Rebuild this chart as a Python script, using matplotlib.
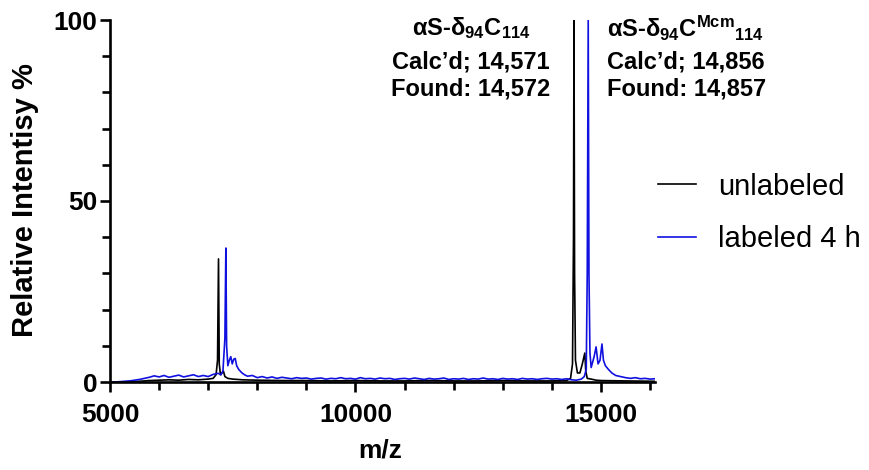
import matplotlib
matplotlib.use("Agg")
import matplotlib.pyplot as plt
from matplotlib.ticker import MultipleLocator

plt.rcParams['font.family'] = ['Liberation Sans', 'DejaVu Sans']
plt.rcParams['mathtext.fontset'] = 'custom'
plt.rcParams['mathtext.rm'] = 'Liberation Sans:bold'
plt.rcParams['mathtext.it'] = 'Liberation Sans:bold'
plt.rcParams['mathtext.bf'] = 'Liberation Sans:bold'
plt.rcParams['mathtext.default'] = 'rm'

# unlabeled spectrum (m/z, relative intensity %)
unlabeled_mz = [5000, 5200, 5400, 5600, 5800, 6000, 6200, 6400, 6600, 6800,
                7000, 7100, 7160, 7190, 7210, 7225, 7250, 7310, 7340, 7400,
                7500, 7700, 8000, 8500, 9000, 9500, 10000, 10500, 11000, 11500,
                12000, 12500, 13000, 13500, 14000, 14300, 14380, 14420, 14440, 14450,
                14462, 14480, 14520, 14570, 14620, 14670, 14690, 14720, 14800, 14900,
                15000, 15500, 16100]
unlabeled_int = [0.0, 0.0, 0.1, 0.2, 0.4, 0.5, 0.6, 0.5, 0.7, 0.6,
                 0.8, 1.0, 2.0, 6.0, 34.0, 5.0, 2.0, 3.0, 1.5, 1.0,
                 0.8, 0.6, 0.5, 0.4, 0.4, 0.3, 0.4, 0.3, 0.3, 0.4,
                 0.3, 0.3, 0.4, 0.3, 0.3, 0.4, 1.0, 5.0, 40.0, 100.0,
                 30.0, 6.0, 2.5, 2.5, 5.0, 8.0, 3.0, 1.0, 0.8, 0.5,
                 0.4, 0.3, 0.2]

# labeled 4 h spectrum
labeled_mz = [5000, 5100, 5200, 5300, 5400, 5500, 5600, 5700, 5800, 5900,
              6000, 6100, 6200, 6300, 6400, 6500, 6600, 6700, 6800, 6900,
              7000, 7100, 7200, 7260, 7300, 7340, 7360, 7375, 7400, 7430,
              7460, 7490, 7520, 7550, 7580, 7620, 7680, 7740, 7800, 7900,
              8000, 8100, 8200, 8300, 8400, 8500, 8600, 8700, 8800, 8900,
              9000, 9100, 9200, 9300, 9400, 9500, 9600, 9700, 9800, 9900,
              10000, 10100, 10200, 10300, 10400, 10500, 10600, 10700, 10800, 10900,
              11000, 11100, 11200, 11300, 11400, 11500, 11600, 11700, 11800, 11900,
              12000, 12100, 12200, 12300, 12400, 12500, 12600, 12700, 12800, 12900,
              13000, 13100, 13200, 13300, 13400, 13500, 13600, 13700, 13800, 13900,
              14000, 14100, 14200, 14300, 14400, 14500, 14600, 14660, 14700, 14720,
              14740, 14755, 14775, 14800, 14830, 14860, 14900, 14940, 14980, 15020,
              15050, 15090, 15150, 15220, 15300, 15400, 15500, 15600, 15700, 15800,
              15900, 16000, 16100]
labeled_int = [0.0, 0.0, 0.1, 0.2, 0.3, 0.5, 0.7, 1.0, 1.3, 1.7,
               1.4, 1.8, 1.3, 1.6, 1.9, 1.4, 1.7, 2.0, 1.5, 1.8,
               1.5, 2.1, 2.4, 2.0, 3.0, 12.0, 37.0, 10.0, 4.5, 6.0,
               7.0, 5.0, 6.3, 6.5, 4.5, 3.5, 2.6, 2.0, 1.6, 1.8,
               1.2, 1.5, 1.1, 1.4, 1.0, 1.3, 1.1, 0.9, 1.2, 1.0,
               1.1, 0.8, 1.0, 1.1, 0.8, 1.0, 0.9, 1.2, 0.9, 1.0,
               0.8, 1.2, 0.9, 1.0, 0.8, 1.1, 0.9, 1.0, 0.7, 0.9,
               1.0, 0.8, 1.1, 0.9, 0.7, 1.0, 0.8, 0.9, 1.1, 0.7,
               0.9, 0.8, 1.0, 0.7, 0.9, 0.8, 1.1, 0.8, 0.9, 0.7,
               1.0, 0.8, 0.9, 0.7, 1.0, 0.8, 0.9, 0.7, 0.9, 1.0,
               0.8, 0.9, 0.7, 0.9, 0.6, 0.5, 0.8, 1.5, 3.5, 30.0,
               100.0, 30.0, 8.0, 4.0, 5.5, 7.0, 9.7, 5.0, 6.0, 10.5,
               6.0, 4.5, 3.5, 2.5, 1.8, 1.5, 1.2, 1.0, 1.2, 0.9,
               1.0, 0.8, 0.9]

series_labels = ['unlabeled', 'labeled 4 h']

fig = plt.figure(figsize=(8.69, 4.70), dpi=100)
ax = fig.add_axes([110 / 869, 88 / 470, 545 / 869, 362 / 470])

ax.plot(unlabeled_mz, unlabeled_int, color='black', lw=1.2, label=series_labels[0])
ax.plot(labeled_mz, labeled_int, color='#1010e0', lw=1.2, label=series_labels[1])

ax.set_xlim(5000, 16100)
ax.set_ylim(0, 100)
ax.xaxis.set_major_locator(MultipleLocator(5000))
ax.xaxis.set_minor_locator(MultipleLocator(1000))
ax.yaxis.set_major_locator(MultipleLocator(50))
ax.yaxis.set_minor_locator(MultipleLocator(10))

for s in ['top', 'right']:
    ax.spines[s].set_visible(False)
for s in ['left', 'bottom']:
    ax.spines[s].set_linewidth(1.9)

ax.tick_params(which='major', length=7, width=1.9, labelsize=19)
ax.tick_params(which='minor', length=6, width=1.9)
ax.tick_params(axis='x', which='major', pad=8)
ax.tick_params(axis='y', which='major', pad=2)
for lab in ax.get_xticklabels() + ax.get_yticklabels():
    lab.set_fontweight('bold')

ax.set_ylabel('Relative Intentisy %', fontsize=21, fontweight='bold')
ax.yaxis.set_label_coords((39 - 110) / 545, 0.503)
ax.set_xlabel('m/z', fontsize=19, fontweight='bold')
ax.xaxis.set_label_coords((380 - 110) / 545, (382 - 439) / 362)

# peak annotations
fs = 17
fig.text(471 / 869, 1 - 28 / 470, 'αS-δ$_{94}$C$_{114}$', ha='center', va='center',
         fontsize=fs, fontweight='bold')
fig.text(471 / 869, 1 - 62 / 470, "Calc’d; 14,571", ha='center', va='center',
         fontsize=fs, fontweight='bold')
fig.text(471 / 869, 1 - 89 / 470, 'Found: 14,572', ha='center', va='center',
         fontsize=fs, fontweight='bold')
fig.text(607 / 869, 1 - 28 / 470, 'αS-δ$_{94}$C$^{Mcm}{}_{114}$', ha='left', va='center',
         fontsize=fs, fontweight='bold')
fig.text(607 / 869, 1 - 62 / 470, "Calc’d; 14,856", ha='left', va='center',
         fontsize=fs, fontweight='bold')
fig.text(607 / 869, 1 - 89 / 470, 'Found: 14,857', ha='left', va='center',
         fontsize=fs, fontweight='bold')

fig.legend(loc='center left', bbox_to_anchor=(632 / 869, 1 - 213 / 470), frameon=False,
           fontsize=21, handlelength=1.3, handletextpad=0.75, labelspacing=0.85)

fig.savefig('out.png', dpi=100)
